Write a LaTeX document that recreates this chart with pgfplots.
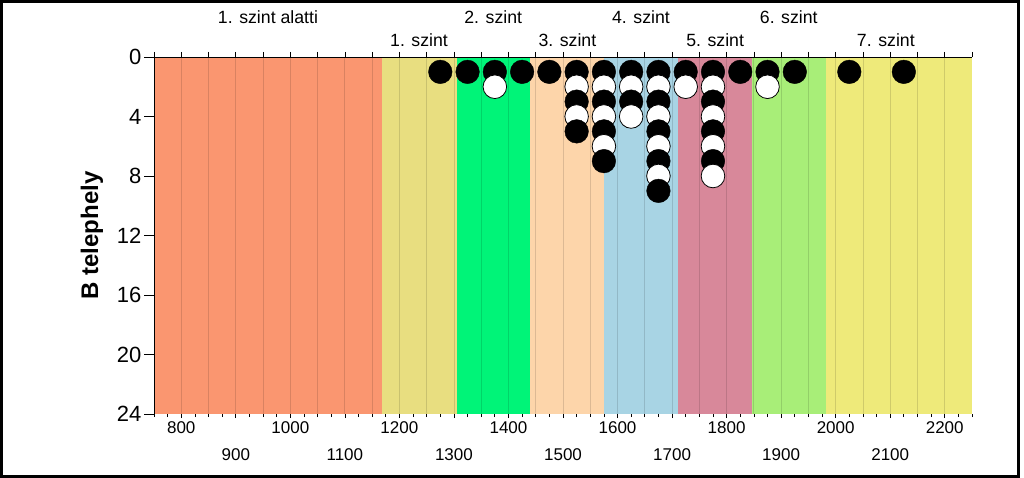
\documentclass[border=0pt]{standalone}
\usepackage{pgfplots}
\pgfplotsset{compat=1.18}
\usepackage{fontspec}
\setmainfont{Liberation Sans}
\definecolor{b1}{RGB}{250,150,112}
\definecolor{b2}{RGB}{232,222,128}
\definecolor{b3}{RGB}{0,244,120}
\definecolor{b4}{RGB}{253,213,170}
\definecolor{b5}{RGB}{168,212,228}
\definecolor{b6}{RGB}{216,136,154}
\definecolor{b7}{RGB}{168,238,120}
\definecolor{b8}{RGB}{238,234,122}
\pgfplotstableread{
x y c
1275 1 b
1325 1 b
1375 1 b
1425 1 b
1475 1 b
1525 1 b
1575 1 b
1625 1 b
1675 1 b
1725 1 b
1775 1 b
1825 1 b
1875 1 b
1925 1 b
2025 1 b
2125 1 b
1375 2 w
1525 2 w
1575 2 w
1625 2 w
1675 2 w
1725 2 w
1775 2 w
1875 2 w
1525 3 b
1575 3 b
1625 3 b
1675 3 b
1775 3 b
1525 4 w
1575 4 w
1625 4 w
1675 4 w
1775 4 w
1525 5 b
1575 5 b
1675 5 b
1775 5 b
1575 6 w
1675 6 w
1775 6 w
1575 7 b
1675 7 b
1775 7 b
1675 8 w
1775 8 w
1675 9 b
}\dots
\begin{document}
\begin{tikzpicture}
\pgfplotsset{
  /pgf/number format/1000 sep={},
  /pgf/number format/assume math mode=true,
  base/.style={
    width=818pt, height=357pt, scale only axis,
    at={(154pt,64pt)}, anchor=south west,
    xmin=750, xmax=2250, ymin=0, ymax=24, y dir=reverse,
    clip=false,
  }
}
% background: bands + grid
\begin{axis}[base, axis on top, axis line style={draw=none},
  xtick={800,850,...,2200}, xticklabels={}, ytick=\empty,
  major tick length=0pt, xmajorgrids,
  grid style={draw=black, opacity=0.13, line width=0.8pt}]
\addplot[fill=b1, draw=none] coordinates {(750,0)(1168,0)(1168,24)(750,24)} -- cycle;
\addplot[fill=b2, draw=none] coordinates {(1168,0)(1305,0)(1305,24)(1168,24)} -- cycle;
\addplot[fill=b3, draw=none] coordinates {(1305,0)(1440,0)(1440,24)(1305,24)} -- cycle;
\addplot[fill=b4, draw=none] coordinates {(1440,0)(1576,0)(1576,24)(1440,24)} -- cycle;
\addplot[fill=b5, draw=none] coordinates {(1576,0)(1711,0)(1711,24)(1576,24)} -- cycle;
\addplot[fill=b6, draw=none] coordinates {(1711,0)(1847,0)(1847,24)(1711,24)} -- cycle;
\addplot[fill=b7, draw=none] coordinates {(1847,0)(1982,0)(1982,24)(1847,24)} -- cycle;
\addplot[fill=b8, draw=none] coordinates {(1982,0)(2250,0)(2250,24)(1982,24)} -- cycle;
\end{axis}
% main: y axis + circles
\begin{axis}[base,
  axis y line*=left, axis x line=none,
  y axis line style={black, line width=0.8pt},
  tick align=outside, major tick length=10pt,
  ytick={0,4,...,24},
  every tick/.style={black, line width=0.8pt},
  yticklabel style={font=\fontsize{22}{22}\selectfont, xshift=1pt},
  ylabel={B telephely},
  ylabel style={at={(axis description cs:-0.0758,0.5)}, anchor=center, font=\fontsize{24}{24}\selectfont\bfseries},
]
\addplot[scatter, only marks, scatter src=explicit symbolic,
  scatter/classes={
    b={mark=*, mark size=11.8pt, draw=black, fill=black},
    w={mark=*, mark size=11.8pt, draw=black, fill=white, line width=0.8pt}}]
  table[x=x, y=y, meta=c] {\dots};
\end{axis}
% bottom ticks
\begin{axis}[base,
  axis x line*=bottom, axis y line=none,
  x axis line style={draw=none},
  tick align=outside, major tick length=4pt, minor tick length=3pt,
  every tick/.style={black, line width=0.7pt},
  xtick={800,1000,...,2200},
  extra x ticks={900,1100,...,2100},
  extra x tick style={tick label style={yshift=-27pt}},
  minor xtick={750,775,...,2250},
  xticklabel style={font=\fontsize{17}{17}\selectfont},
]
\end{axis}
% top line + band labels
\begin{axis}[base,
  axis x line*=top, axis y line=none,
  x axis line style={black, line width=0.8pt},
  tick align=outside, major tick length=5pt,
  every tick/.style={black, line width=0.7pt},
  xtick={750,800,...,2250}, xticklabels={},
]
\begin{scope}[every node/.style={font=\fontsize{17.7}{17.7}\selectfont, anchor=center}]
\node at (axis cs:959,0) [yshift=40pt] {1. szint alatti};
\node at (axis cs:1372,0) [yshift=40pt] {2. szint};
\node at (axis cs:1643,0) [yshift=40pt] {4. szint};
\node at (axis cs:1914,0) [yshift=40pt] {6. szint};
\node at (axis cs:1236,0) [yshift=17pt] {1. szint};
\node at (axis cs:1508,0) [yshift=17pt] {3. szint};
\node at (axis cs:1779,0) [yshift=17pt] {5. szint};
\node at (axis cs:2092,0) [yshift=17pt] {7. szint};
\end{scope}
\end{axis}
\draw[black, line width=3pt] (1.5pt,1.5pt) rectangle (1018.5pt,476.5pt);
\pgfresetboundingbox
\useasboundingbox (0,0) rectangle (1024pt,478pt);
\end{tikzpicture}
\end{document}
